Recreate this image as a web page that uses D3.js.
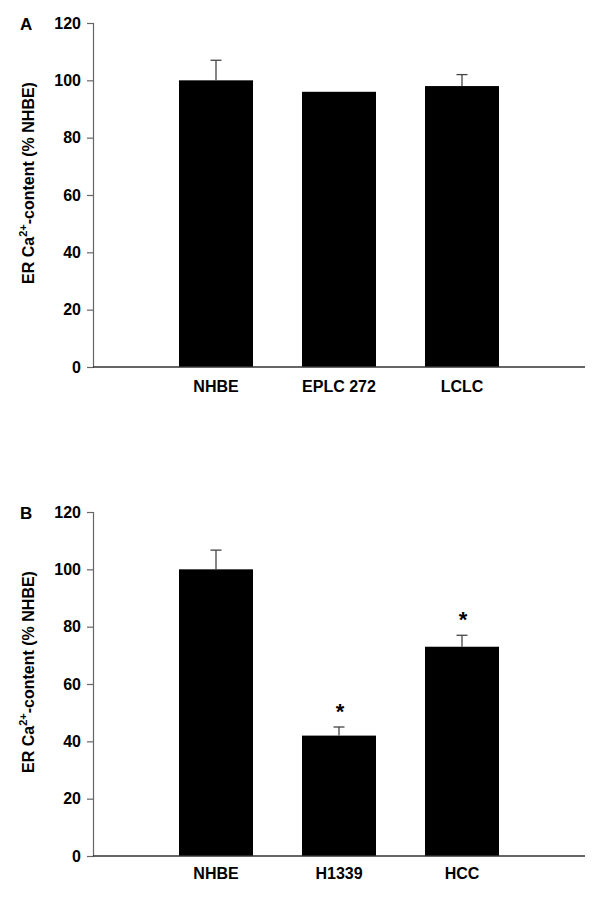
<!DOCTYPE html>
<html><head><meta charset="utf-8">
<script src="https://cdn.jsdelivr.net/npm/d3@7"></script>
<style>body{margin:0;background:#fff}svg{display:block}text{font-family:"Liberation Sans",Arial,sans-serif;font-weight:bold}</style>
</head><body>
<script>
const categoriesA = ["NHBE", "EPLC 272", "LCLC"];
const valuesA = [100, 96, 98];
const errorsA = [7, 0, 4];
const starsA = [false, false, false];

const categoriesB = ["NHBE", "H1339", "HCC"];
const valuesB = [100, 42, 73];
const errorsB = [6.7, 3, 4];
const starsB = [false, true, true];

const yTicks = [0, 20, 40, 60, 80, 100, 120];
const yLabel = "ER Ca";

const svg = d3.select("body").append("svg").attr("width", 600).attr("height", 898);

function panel(letter, cats, vals, errs, stars, top, bottom, catY) {
  const g = svg.append("g");
  const x = d3.scalePoint().domain(cats).range([93, 585]).padding(1);
  const y = d3.scaleLinear().domain([0, 120]).range([bottom, top]);
  const bw = 74;
  const data = cats.map((c, i) => ({c, v: vals[i], e: errs[i], s: stars[i]}));

  g.selectAll("rect.bar").data(data).join("rect")
    .attr("x", d => x(d.c) - bw / 2).attr("width", bw)
    .attr("y", d => y(d.v)).attr("height", d => y(0) - y(d.v))
    .attr("fill", "#000");

  const eb = data.filter(d => d.e > 0);
  g.selectAll("line.err").data(eb).join("line")
    .attr("x1", d => x(d.c)).attr("x2", d => x(d.c))
    .attr("y1", d => y(d.v)).attr("y2", d => y(d.v + d.e))
    .attr("stroke", "#444").attr("stroke-width", 1.3);
  g.selectAll("line.cap").data(eb).join("line")
    .attr("x1", d => x(d.c) - 5.5).attr("x2", d => x(d.c) + 5.5)
    .attr("y1", d => y(d.v + d.e)).attr("y2", d => y(d.v + d.e))
    .attr("stroke", "#444").attr("stroke-width", 1.3);

  g.selectAll("text.star").data(data.filter(d => d.s)).join("text")
    .attr("x", d => x(d.c) + 1).attr("y", d => y(d.v + d.e) - 8)
    .attr("text-anchor", "middle").attr("font-size", 22).text("*");

  // y axis
  const ya = d3.axisLeft(y).tickValues(yTicks).tickSize(6).tickPadding(6);
  const ag = g.append("g").attr("transform", "translate(93,0)").call(ya);
  ag.select(".domain").attr("stroke", "#666").attr("stroke-width", 1.2);
  ag.selectAll(".tick line").attr("stroke", "#666").attr("stroke-width", 1.2);
  ag.selectAll(".tick text").attr("font-size", 16).attr("fill", "#000")
    .attr("font-family", "Liberation Sans, Arial, sans-serif").attr("font-weight", "bold");

  // x axis line
  g.append("line").attr("x1", 93).attr("x2", 585).attr("y1", bottom).attr("y2", bottom)
    .attr("stroke", "#333").attr("stroke-width", 1.3);

  g.selectAll("text.cat").data(cats).join("text")
    .attr("x", d => x(d)).attr("y", catY).attr("text-anchor", "middle")
    .attr("font-size", 16).text(d => d);

  // panel letter
  g.append("text").attr("x", 20).attr("y", top + 7).attr("font-size", 17).text(letter);

  // y label
  const t = g.append("text").attr("transform", `translate(34,${(top + bottom) / 2 - 12}) rotate(-90)`)
    .attr("text-anchor", "middle").attr("font-size", 16);
  t.append("tspan").text(yLabel);
  t.append("tspan").attr("dy", -7).attr("font-size", 11).text("2+");
  t.append("tspan").attr("dy", 7).text("-content (% NHBE)");
}

panel("A", categoriesA, valuesA, errorsA, starsA, 23, 367, 392);
panel("B", categoriesB, valuesB, errorsB, starsB, 512, 856, 879);
</script>
</body></html>
